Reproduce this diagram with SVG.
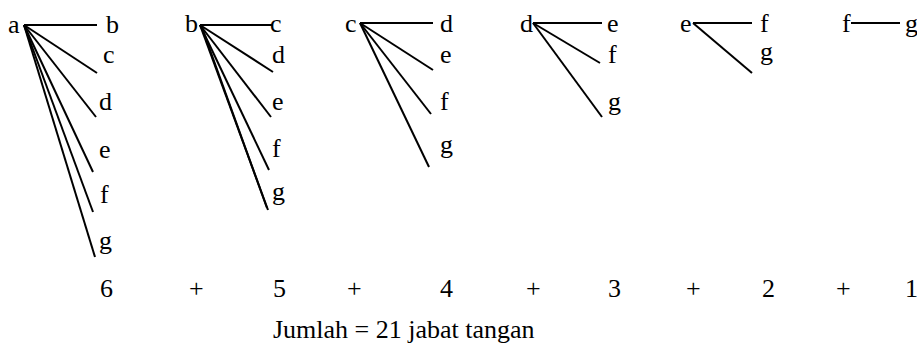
<svg xmlns="http://www.w3.org/2000/svg" width="917" height="347" viewBox="0 0 917 347">
<style>
text{font-family:'Liberation Serif','Times New Roman',Times,'DejaVu Serif','Noto Serif',serif;font-size:26px;fill:#000}
.c line{stroke:#000;stroke-width:2}
</style>
<rect width="917" height="347" fill="#fff"/>
<g id="col1" font-family="Liberation Serif, Times New Roman, DejaVu Serif, serif">
<g id="a1"><text x="8" y="33">a</text></g>
<g id="b1"><text x="106" y="33">b</text></g>
<g id="c1"><text x="103" y="63">c</text></g>
<g id="d1"><text x="99" y="110">d</text></g>
<g id="e1"><text x="99" y="158">e</text></g>
<g id="f1"><text x="100" y="203">f</text></g>
<g id="g1"><text x="99" y="249">g</text></g>
</g>
<g id="col2">
<g id="b2"><text x="185" y="32">b</text></g>
<g id="c2"><text x="270" y="32">c</text></g>
<g id="d2"><text x="272" y="63">d</text></g>
<g id="e2"><text x="272" y="110">e</text></g>
<g id="f2"><text x="272" y="157">f</text></g>
<g id="g2"><text x="272" y="200">g</text></g>
</g>
<g id="col3">
<g id="c3"><text x="345" y="32">c</text></g>
<g id="d3"><text x="440" y="32">d</text></g>
<g id="e3"><text x="440" y="63">e</text></g>
<g id="f3"><text x="440" y="110">f</text></g>
<g id="g3"><text x="440" y="153">g</text></g>
</g>
<g id="col4">
<g id="d4"><text x="520" y="32">d</text></g>
<g id="e4"><text x="607" y="32">e</text></g>
<g id="f4"><text x="608" y="63">f</text></g>
<g id="g4"><text x="608" y="110">g</text></g>
</g>
<g id="col5">
<g id="e5"><text x="680" y="32">e</text></g>
<g id="f5"><text x="760" y="32">f</text></g>
<g id="g5"><text x="760" y="60">g</text></g>
</g>
<g id="col6">
<g id="f6"><text x="842" y="32">f</text></g>
<g id="g6"><text x="905" y="32">g</text></g>
</g>
<g class="c" id="connectors">
<line x1="24" y1="25" x2="97" y2="25"/>
<line x1="24" y1="25" x2="97" y2="73"/>
<line x1="24" y1="25" x2="96" y2="117"/>
<line x1="24" y1="25" x2="93" y2="172"/>
<line x1="24" y1="25" x2="93" y2="212"/>
<line x1="24" y1="25" x2="95" y2="257"/>
<line x1="200" y1="25" x2="273" y2="25"/>
<line x1="200" y1="25" x2="273" y2="72"/>
<line x1="200" y1="25" x2="271" y2="117"/>
<line x1="200" y1="25" x2="269" y2="170"/>
<line x1="200" y1="25" x2="268" y2="210"/>
<line x1="201" y1="25" x2="267" y2="208"/>
<line x1="360" y1="23" x2="433" y2="23"/>
<line x1="360" y1="23" x2="433" y2="70"/>
<line x1="360" y1="23" x2="431" y2="114"/>
<line x1="360" y1="23" x2="429" y2="167"/>
<line x1="533" y1="23" x2="602" y2="23"/>
<line x1="533" y1="23" x2="600" y2="63"/>
<line x1="533" y1="23" x2="602" y2="117"/>
<line x1="693" y1="23" x2="752" y2="23"/>
<line x1="693" y1="23" x2="752" y2="73"/>
<line x1="851" y1="23" x2="900" y2="23"/>
</g>
<g id="sum">
<text x="100" y="297">6</text>
<text x="189" y="297">+</text>
<text x="273" y="297">5</text>
<text x="347" y="297">+</text>
<text x="440" y="297">4</text>
<text x="526" y="297">+</text>
<text x="608" y="297">3</text>
<text x="686" y="297">+</text>
<text x="762" y="297">2</text>
<text x="836" y="297">+</text>
<text x="905" y="297">1</text>
<text x="273" y="338">Jumlah = 21 jabat tangan</text>
</g>
</svg>
